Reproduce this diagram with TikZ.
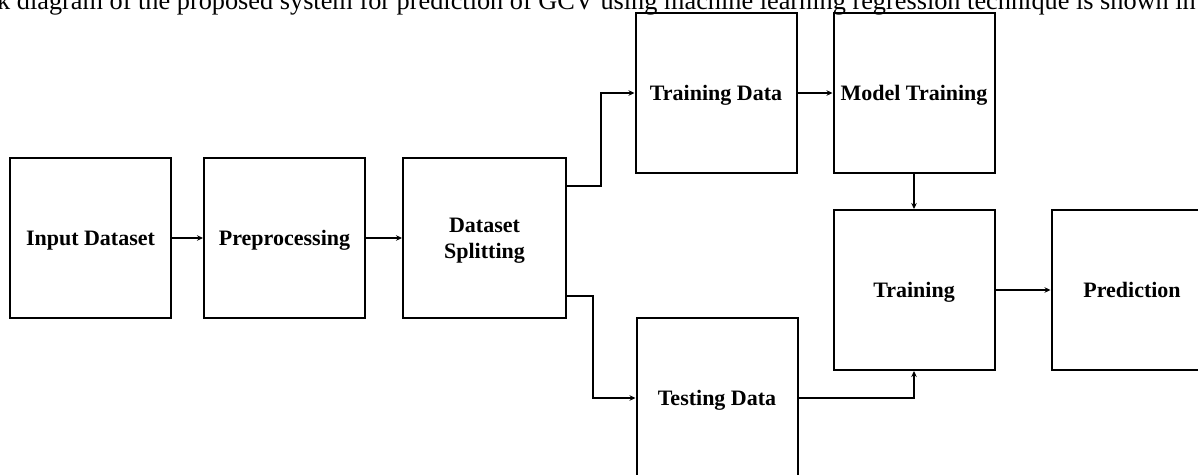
\documentclass[tikz,border=0pt]{standalone}
\usepackage{fontspec}
\setmainfont{Liberation Serif}
\usetikzlibrary{arrows.meta}
\tikzset{
  blk/.style={draw=black, line width=2pt, rectangle, minimum width=161pt, minimum height=160pt, inner sep=0pt, align=center, text depth=0pt, font=\fontsize{22}{26}\selectfont\bfseries},
  arr/.style={line width=1.8pt, -{Stealth[length=6pt,width=5.5pt]}},
}
\begin{document}
\begin{tikzpicture}[x=1pt, y=-1pt]
\useasboundingbox (0,0) rectangle (1198,474);
\clip (0,0) rectangle (1198,474);
\fill[white] (0,0) rectangle (1198,474);
\node[anchor=base west, inner sep=0pt, font=\fontsize{26.3}{30}\selectfont] (cap) at (-3,9) {k diagram of the proposed system for prediction of GCV using machine learning regression technique is shown in};
\node[blk] (input) at (90.5,238) {Input Dataset};
\node[blk] (prep) at (284.5,238) {Preprocessing};
\node[blk, minimum width=163pt] (split) at (484.5,238) {Dataset\\Splitting};
\node[blk] (tdata) at (716,93) {Training Data};
\node[blk] (model) at (914,93) {Model Training};
\node[blk] (train) at (914,290) {Training};
\node[blk] (pred) at (1132,290) {Prediction};
\node[blk] (test) at (717,398) {Testing Data};
\draw[arr] (input) -- (prep);
\draw[arr] (prep) -- (split);
\draw[arr] ([yshift=52pt]split.east) -- ++(34,0) |- (tdata.west);
\draw[arr] ([yshift=-58pt]split.east) -- ++(26,0) |- (test.west);
\draw[arr] (tdata) -- (model);
\draw[arr] (model) -- (train);
\draw[arr] (test.east) -| (train.south);
\draw[arr] (train) -- (pred);
\end{tikzpicture}
\end{document}
